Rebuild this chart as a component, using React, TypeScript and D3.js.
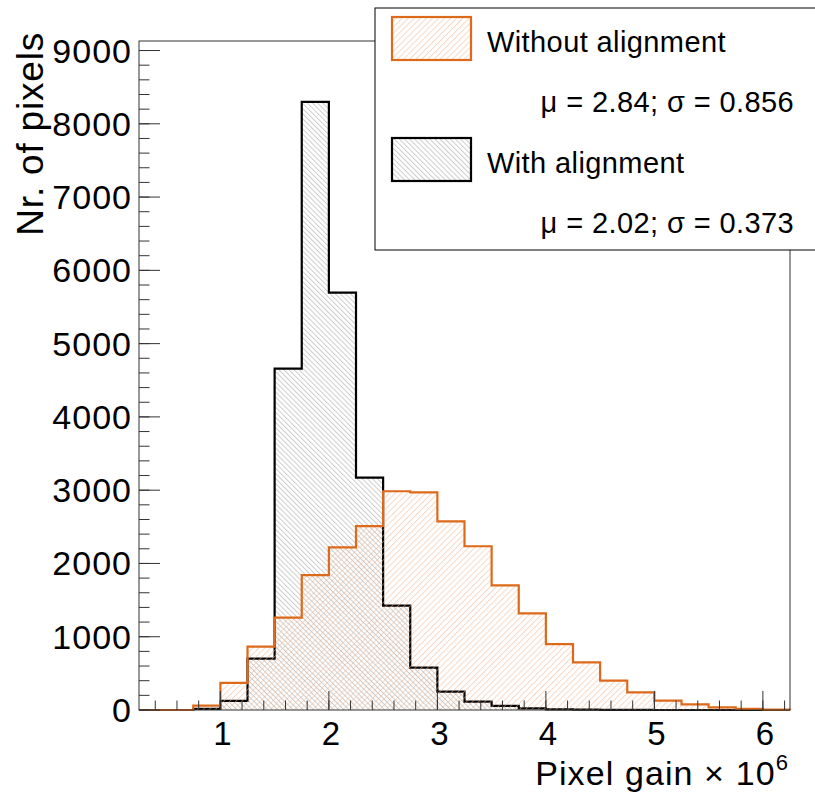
import React from "react";
import * as d3 from "d3";

// Bin edges of the histograms (pixel gain × 10^6)
const binEdges = [
  0.25, 0.5, 0.75, 1.0, 1.25, 1.5, 1.75, 2.0, 2.25, 2.5, 2.75, 3.0, 3.25,
  3.5, 3.75, 4.0, 4.25, 4.5, 4.75, 5.0, 5.25, 5.5, 5.75, 6.0, 6.25,
];

// Counts per bin: "Without alignment"
const withoutAlignment = [
  0, 0, 60, 370, 865, 1260, 1840, 2220, 2510, 2985, 2970, 2575, 2235, 1700,
  1320, 900, 650, 400, 240, 127, 77, 37, 14, 5,
];

// Counts per bin: "With alignment"
const withAlignment = [
  0, 0, 15, 125, 700, 4660, 8300, 5695, 3170, 1425, 577, 250, 113, 55, 23, 8,
  4, 2, 1, 0, 0, 0, 0, 0,
];

const xDomain = [0.25, 6.25];
const yDomain = [0, 9130];
const xTickLabels = [1, 2, 3, 4, 5, 6];
const yTickLabels = [0, 1000, 2000, 3000, 4000, 5000, 6000, 7000, 8000, 9000];

const legendEntries = [
  { name: "Without alignment", stats: "μ = 2.84; σ = 0.856", key: "orange" },
  { name: "With alignment", stats: "μ = 2.02; σ = 0.373", key: "black" },
];

const W = 815;
const H = 795;
const FL = 139;
const FR = 790;
const FT = 41;
const FB = 710;
const FONT = "'Liberation Sans', Arial, Helvetica, sans-serif";
const ORANGE = "#dd6a1b";
const AXIS = "#333";

function stepPath(x: d3.ScaleLinear<number, number>, y: d3.ScaleLinear<number, number>, vals: number[]) {
  const pts: [number, number][] = [[x(binEdges[0]), y(0)]];
  vals.forEach((v, i) => {
    pts.push([x(binEdges[i]), y(v)]);
    pts.push([x(binEdges[i + 1]), y(v)]);
  });
  pts.push([x(binEdges[vals.length]), y(0)]);
  return d3.line()(pts) || "";
}

export default function App() {
  const x = d3.scaleLinear().domain(xDomain).range([FL, FR]);
  const y = d3.scaleLinear().domain(yDomain).range([FB, FT]);

  const xMinor = d3.range(2, 32).map((k) => k * 0.2).filter((v) => v >= xDomain[0] && v <= xDomain[1]);
  const yMinor = d3.range(0, 46).map((k) => k * 200).filter((v) => v <= yDomain[1]);

  const orangePath = stepPath(x, y, withoutAlignment);
  const blackPath = stepPath(x, y, withAlignment);

  return (
    <svg
      width={W}
      height={H}
      style={{ position: "absolute", left: 0, top: 0, background: "#fff" }}
      fontFamily={FONT}
    >
      <defs>
        <pattern id="hatchOrange" patternUnits="userSpaceOnUse" width={4.3} height={4.3} patternTransform="rotate(45)">
          <line x1={0.5} y1={0} x2={0.5} y2={4.3} stroke="#f0b488" strokeWidth={0.7} strokeOpacity={0.7} />
        </pattern>
        <pattern id="hatchBlack" patternUnits="userSpaceOnUse" width={3.6} height={3.6} patternTransform="rotate(-45)">
          <line x1={0.5} y1={0} x2={0.5} y2={3.6} stroke="#9a9a9a" strokeWidth={0.7} strokeOpacity={0.7} />
        </pattern>
      </defs>
      <rect x={0} y={0} width={W} height={H} fill="#fff" />

      {/* histograms */}
      <path d={blackPath} fill="url(#hatchBlack)" stroke="#000" strokeWidth={2.2} strokeLinejoin="miter" />
      <path d={orangePath} fill="url(#hatchOrange)" stroke={ORANGE} strokeWidth={2.2} strokeLinejoin="miter" />

      {/* frame */}
      <rect x={FL} y={FT} width={FR - FL} height={FB - FT} fill="none" stroke={AXIS} strokeWidth={1} />

      {/* x ticks */}
      {xMinor.map((v) => (
        <line key={"xm" + v} x1={x(v)} x2={x(v)} y1={FB} y2={FB - 9.5} stroke={AXIS} strokeWidth={1} />
      ))}
      {xTickLabels.map((v) => (
        <g key={"xt" + v}>
          <line x1={x(v)} x2={x(v)} y1={FB} y2={FB - 19} stroke={AXIS} strokeWidth={1} />
          <text x={x(v) + 2} y={745} textAnchor="middle" fontSize={33} fill="#000">
            {v}
          </text>
        </g>
      ))}

      {/* y ticks */}
      {yMinor.map((v) => (
        <line key={"ym" + v} x1={FL} x2={FL + 10.5} y1={y(v)} y2={y(v)} stroke={AXIS} strokeWidth={1} />
      ))}
      {yTickLabels.map((v) => (
        <g key={"yt" + v}>
          <line x1={FL} x2={FL + 21} y1={y(v)} y2={y(v)} stroke={AXIS} strokeWidth={1} />
          <text x={132} y={y(v) + 12} textAnchor="end" fontSize={34} letterSpacing={1} fill="#000">
            {v}
          </text>
        </g>
      ))}

      {/* axis titles */}
      <text x={789} y={785} textAnchor="end" fontSize={34} letterSpacing={1.1} fill="#000">
        Pixel gain × 10
        <tspan dy={-15} fontSize={22}>6</tspan>
      </text>
      <text
        transform="translate(43,32) rotate(-90)"
        textAnchor="end"
        fontSize={37}
        letterSpacing={0.8}
        fill="#000"
      >
        Nr. of pixels
      </text>

      {/* legend */}
      <rect x={375} y={8} width={460} height={242} fill="#fff" stroke="#000" strokeWidth={1} />
      {legendEntries.map((e, i) => {
        const top = 17 + i * 121;
        const isOrange = e.key === "orange";
        return (
          <g key={e.key}>
            <rect
              x={392}
              y={top}
              width={79}
              height={43}
              fill={isOrange ? "url(#hatchOrange)" : "url(#hatchBlack)"}
              stroke={isOrange ? ORANGE : "#000"}
              strokeWidth={2.2}
            />
            <text x={487} y={52 + i * 121} fontSize={29} letterSpacing={0.4} fill="#000">
              {e.name}
            </text>
            <text x={794} y={112 + i * 121} textAnchor="end" fontSize={29} letterSpacing={0.4} fill="#000">
              {e.stats}
            </text>
          </g>
        );
      })}
    </svg>
  );
}
